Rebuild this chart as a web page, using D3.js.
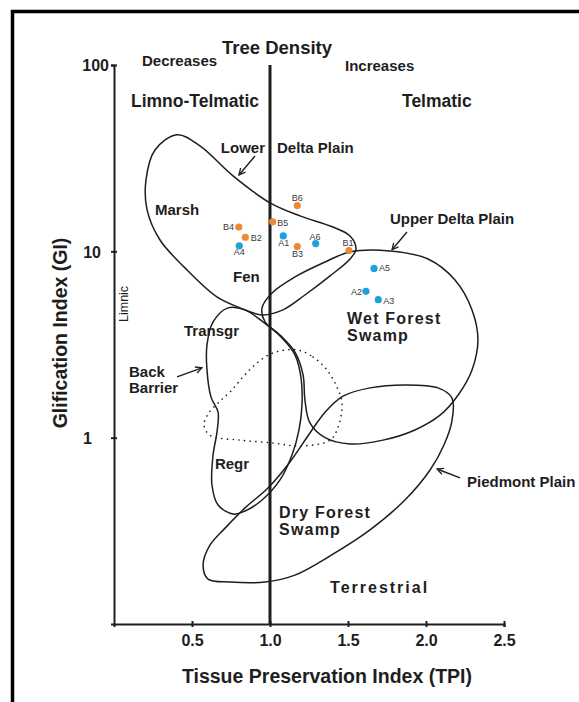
<!DOCTYPE html>
<html>
<head>
<meta charset="utf-8">
<script src="https://cdn.jsdelivr.net/npm/d3@7"></script>
<style>
  html, body { margin: 0; padding: 0; background: #fff; }
  svg { display: block; font-family: "Liberation Sans", Arial, Helvetica, sans-serif; }
</style>
</head>
<body>
<svg id="chart" width="579" height="702"></svg>
<script>
// ---- samples: Tissue Preservation Index vs Gelification Index ----
const sampleNames = ["A1", "A2", "A3", "A4", "A5", "A6", "B1", "B2", "B3", "B4", "B5", "B6"];
const sampleTPI   = [1.085, 1.615, 1.694, 0.803, 1.667, 1.293, 1.506, 0.842, 1.175, 0.800, 1.017, 1.175];
const sampleGI    = [12.1, 6.1, 5.5, 10.7, 8.1, 11.0, 10.1, 11.9, 10.6, 13.5, 14.4, 17.6];

// ---- axis ticks ----
const xTickValues = [0.5, 1.0, 1.5, 2.0, 2.5];
const xTickLabels = ["0.5", "1.0", "1.5", "2.0", "2.5"];
const yTickValues = [1, 10, 100];
const yTickLabels = ["1", "10", "100"];

// ---- depositional fields, outlines as [TPI, GI] ----
const fieldLowerDelta = [[0.404,42.2],[0.551,36.8],[0.763,25.4],[1.000,18.2],[1.192,15.5],[1.404,13.5],
  [1.513,12.1],[1.551,10.3],[1.513,9.1],[1.385,7.38],[1.224,5.83],[1.083,4.85],[0.949,4.56],[0.808,4.97],
  [0.660,5.69],[0.455,8.15],[0.295,11.5],[0.212,16.7],[0.205,24.2],[0.263,35.0]];
const fieldUpperDelta = [[1.513,9.93],[1.769,10.05],[2.013,9.10],[2.186,7.02],[2.295,4.85],[2.333,3.35],
  [2.295,2.31],[2.205,1.69],[2.090,1.32],[1.929,1.10],[1.724,0.97],[1.513,0.925],[1.353,1.0],[1.256,1.20],
  [1.224,1.59],[1.212,2.17],[1.160,2.88],[1.064,3.56],[0.968,4.18],[0.949,4.97],[1.013,5.98],[1.160,7.29],[1.353,8.77]];
const fieldBackBarrier = [[0.731,4.97],[0.840,4.85],[0.955,4.18],[1.077,3.43],[1.160,2.78],[1.199,2.09],
  [1.205,1.50],[1.186,1.10],[1.141,0.807],[1.064,0.593],[0.949,0.463],[0.840,0.404],[0.763,0.389],[0.667,0.435],
  [0.628,0.557],[0.635,0.807],[0.660,1.07],[0.667,1.37],[0.622,1.65],[0.596,2.31],[0.596,3.15],[0.635,4.18]];
const fieldPiedmont = [[1.468,1.67],[1.641,1.85],[1.865,1.92],[2.077,1.85],[2.167,1.63],[2.167,1.24],
  [2.115,0.914],[2.026,0.671],[1.865,0.463],[1.641,0.320],[1.385,0.232],[1.160,0.183],[0.968,0.168],[0.744,0.168],
  [0.603,0.174],[0.571,0.207],[0.615,0.265],[0.712,0.327],[0.840,0.420],[0.987,0.537],[1.128,0.741],[1.256,1.06],[1.353,1.37]];
const fieldDotted = [[1.173,2.96],[1.276,2.71],[1.365,2.31],[1.429,1.87],[1.462,1.52],[1.436,1.14],
  [1.385,0.97],[1.192,0.902],[1.019,0.936],[0.808,0.97],[0.615,1.03],[0.577,1.17],[0.603,1.34],[0.679,1.57],
  [0.750,1.78],[0.827,2.12],[0.917,2.52],[1.019,2.85]];

// ---- pointer arrows [from, to] in [TPI, GI] ----
const pointerArrows = [
  [[0.904, 32.5], [0.801, 25.7]],
  [[1.878, 12.7], [1.782, 10.2]],
  [[2.218, 0.608], [2.071, 0.679]],
  [[0.404, 2.12], [0.564, 2.37]]
];

// ---- field names, anchored in [TPI, GI] ----
const fieldLabels = [
  { lines: ["Marsh"], at: [0.263, 15.7], cls: "lab" },
  { lines: ["Fen"], at: [0.763, 6.85], cls: "lab" },
  { lines: ["Lower"], at: [0.968, 33.7], cls: "lab", anchor: "end" },
  { lines: ["Delta Plain"], at: [1.045, 33.7], cls: "lab" },
  { lines: ["Upper Delta Plain"], at: [1.769, 14.0], cls: "lab" },
  { lines: ["Transgr"], at: [0.449, 3.52], cls: "lab" },
  { lines: ["Back", "Barrier"], at: [0.096, 2.12], cls: "lab" },
  { lines: ["Regr"], at: [0.647, 0.679], cls: "lab" },
  { lines: ["Piedmont Plain"], at: [2.263, 0.543], cls: "lab" },
  { lines: ["Wet Forest", "Swamp"], at: [1.494, 4.05], cls: "big" },
  { lines: ["Dry Forest", "Swamp"], at: [1.058, 0.371], cls: "big" },
  { lines: ["Terrestrial"], at: [1.385, 0.147], cls: "big", spacing: 2.0 }
];

// sample label placement (dx, dy, anchor) around each dot
const labelPlacement = {
  A1: [0.5, 10.3, "middle"], A2: [-4, 4, "end"], A3: [5, 4.2, "start"], A4: [0, 9.3, "middle"],
  A5: [5, 2.8, "start"], A6: [-0.7, -3.8, "middle"], B1: [-1, -4.7, "middle"], B2: [5.4, 3.7, "start"],
  B3: [0.2, 10.3, "middle"], B4: [-4.7, 2.7, "end"], B5: [4.6, 3.8, "start"], B6: [0, -4.2, "middle"]
};

const ink = "#1e1e1e";
const groupColor = { A: "#1ea2dc", B: "#eb8934" };

const svg = d3.select("#chart");

const x = d3.scaleLinear().domain([0, 2.5]).range([114, 504]);
const y = d3.scaleLog().domain([0.1, 100]).range([624, 65]);

// outer frame
svg.append("rect")
  .attr("x", 12.5).attr("y", 11.5)
  .attr("width", 700).attr("height", 760)
  .attr("fill", "none").attr("stroke", "#000").attr("stroke-width", 3.5);

// arrow head
svg.append("defs").append("marker")
  .attr("id", "head").attr("viewBox", "0 0 10 10")
  .attr("refX", 9).attr("refY", 5)
  .attr("markerUnits", "userSpaceOnUse")
  .attr("markerWidth", 8).attr("markerHeight", 8)
  .attr("orient", "auto")
  .append("path").attr("d", "M1,1 L9,5 L1,9")
  .attr("fill", "none").attr("stroke", ink).attr("stroke-width", 1.6);

// field outlines
const outline = d3.line()
  .x(d => x(d[0])).y(d => y(d[1]))
  .curve(d3.curveCatmullRomClosed.alpha(0.5));

const fields = [fieldLowerDelta, fieldUpperDelta, fieldBackBarrier, fieldPiedmont];
svg.append("g").selectAll("path").data(fields).join("path")
  .attr("d", outline)
  .attr("fill", "none").attr("stroke", ink).attr("stroke-width", 1.5);

svg.append("path").datum(fieldDotted)
  .attr("d", outline)
  .attr("fill", "none").attr("stroke", ink).attr("stroke-width", 1.6)
  .attr("stroke-linecap", "round").attr("stroke-dasharray", "0.1 5.6");

// TPI = 1 divider
svg.append("line")
  .attr("x1", x(1)).attr("x2", x(1))
  .attr("y1", y(100)).attr("y2", y(0.1))
  .attr("stroke", ink).attr("stroke-width", 3);

// x axis
const xAxis = svg.append("g").attr("transform", `translate(0,${y(0.1)})`)
  .call(d3.axisBottom(x).tickValues(xTickValues)
    .tickFormat((d, i) => xTickLabels[i]).tickSizeOuter(0).tickSize(3).tickPadding(8));
xAxis.select(".domain").attr("stroke", ink).attr("stroke-width", 2);
xAxis.selectAll(".tick line").attr("y1", -3).attr("stroke", ink).attr("stroke-width", 2);
xAxis.selectAll(".tick text")
  .attr("fill", ink).attr("font-size", 16).attr("font-weight", "bold")
  .attr("font-family", "Liberation Sans, Arial, sans-serif");

// y axis
const yLabelX = { 1: -22, 10: -13, 100: -5 };
const yAxis = svg.append("g").attr("transform", `translate(${x(0)},0)`)
  .call(d3.axisLeft(y).tickValues(yTickValues)
    .tickFormat((d, i) => yTickLabels[i]).tickSizeOuter(0).tickSize(3));
yAxis.select(".domain").attr("stroke", ink).attr("stroke-width", 2);
yAxis.selectAll(".tick line").attr("x1", 3).attr("stroke", ink).attr("stroke-width", 2);
yAxis.selectAll(".tick text")
  .attr("x", d => yLabelX[d]).attr("dy", "0.36em")
  .attr("fill", ink).attr("font-size", 16).attr("font-weight", "bold")
  .attr("font-family", "Liberation Sans, Arial, sans-serif");

// axis titles
svg.append("text")
  .attr("x", 327).attr("y", 683).attr("text-anchor", "middle")
  .attr("font-size", 19.5).attr("font-weight", "bold").attr("fill", ink)
  .text("Tissue Preservation Index (TPI)");
svg.append("text")
  .attr("transform", "translate(67,333) rotate(-90)").attr("text-anchor", "middle")
  .attr("font-size", 19.5).attr("font-weight", "bold").attr("fill", ink)
  .text("Glification Index (GI)");

// header labels
const header = svg.append("g").attr("font-weight", "bold").attr("fill", ink);
header.append("text").attr("x", 222).attr("y", 54).attr("font-size", 18.5).text("Tree Density");
header.append("text").attr("x", 142).attr("y", 66).attr("font-size", 15).text("Decreases");
header.append("text").attr("x", 345).attr("y", 71).attr("font-size", 15).text("Increases");
header.append("text").attr("x", 131).attr("y", 107).attr("font-size", 17.5).text("Limno-Telmatic");
header.append("text").attr("x", 402).attr("y", 107).attr("font-size", 17.5).text("Telmatic");

// Limnic
svg.append("text")
  .attr("transform", `translate(${x(0.09)},${y(5.22)}) rotate(-90)`)
  .attr("text-anchor", "middle").attr("font-size", 12.5).attr("fill", ink)
  .text("Limnic");

// pointer arrows
svg.append("g").selectAll("line").data(pointerArrows).join("line")
  .attr("x1", d => x(d[0][0])).attr("y1", d => y(d[0][1]))
  .attr("x2", d => x(d[1][0])).attr("y2", d => y(d[1][1]))
  .attr("stroke", ink).attr("stroke-width", 1.4)
  .attr("marker-end", "url(#head)");

// field names
const labG = svg.append("g").attr("font-weight", "bold").attr("fill", ink);
fieldLabels.forEach(f => {
  const big = f.cls === "big";
  const t = labG.append("text")
    .attr("x", x(f.at[0])).attr("y", y(f.at[1]))
    .attr("text-anchor", f.anchor || "start")
    .attr("font-size", big ? 16 : 15)
    .attr("letter-spacing", f.spacing != null ? f.spacing : (big ? 1.2 : 0));
  f.lines.forEach((ln, i) => {
    t.append("tspan").attr("x", x(f.at[0])).attr("dy", i === 0 ? 0 : (big ? 17 : 16)).text(ln);
  });
});

// sample dots
const samples = sampleNames.map((n, i) => ({ name: n, tpi: sampleTPI[i], gi: sampleGI[i] }));
svg.append("g").selectAll("circle").data(samples).join("circle")
  .attr("cx", d => x(d.tpi)).attr("cy", d => y(d.gi)).attr("r", 3.6)
  .attr("fill", d => groupColor[d.name[0]]);

svg.append("g").selectAll("text").data(samples).join("text")
  .attr("x", d => x(d.tpi) + labelPlacement[d.name][0])
  .attr("y", d => y(d.gi) + labelPlacement[d.name][1])
  .attr("text-anchor", d => labelPlacement[d.name][2])
  .attr("font-size", 9).attr("fill", "#3a3a3a")
  .text(d => d.name);
</script>
</body>
</html>
